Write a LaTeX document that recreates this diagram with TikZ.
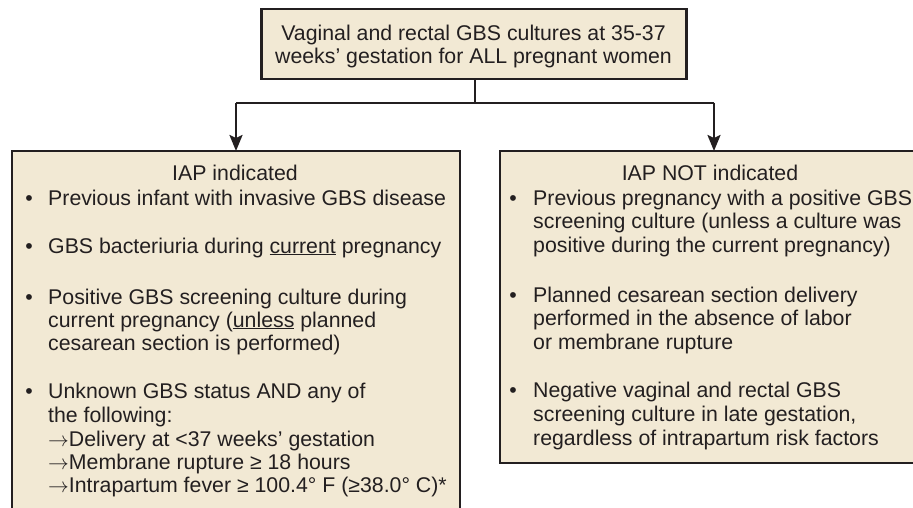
\documentclass[tikz,border=0pt]{standalone}
\usepackage{fontspec}
\setmainfont{Liberation Sans}
\usetikzlibrary{arrows.meta}
\definecolor{boxfill}{HTML}{F2E9D4}
\definecolor{ink}{HTML}{231F20}
\newcommand{\toarr}{\ensuremath{\rightarrow}}
\begin{document}
\begin{tikzpicture}[x=1pt,y=-1pt,
  panel/.style={draw=ink, line width=2.7pt, fill=boxfill, inner sep=0pt, outer sep=0pt},
  openpanel/.style={draw=none, fill=boxfill, inner sep=0pt, outer sep=0pt},
  edge/.style={draw=ink, line width=2.7pt},
  conn/.style={draw=ink, line width=2.3pt},
  arr/.style={conn, -{Stealth[length=16pt,width=13pt,inset=3pt]}},
  txt/.style={inner sep=0pt, anchor=base west, text=ink, font=\fontsize{21.3}{23.5}\selectfont},
  ctxt/.style={txt, anchor=base},
  bul/.style={txt, anchor=base}]
\useasboundingbox (0,0) rectangle (913,508);
\clip (0,0) rectangle (913,508);
% boxes
\node[panel, minimum width=425pt, minimum height=70pt] (top) at (474.2,44) {};
\node[openpanel, minimum width=448pt, minimum height=369pt] (left) at (236,335.5) {};
\draw[edge] (left.south west) -- (left.north west) -- (left.north east) -- (left.south east);
\node[openpanel, minimum width=428pt, minimum height=312pt] (right) at (714,307) {};
\draw[edge] (right.north east) -- (right.north west) -- (right.south west) -- (right.south east);
% connectors
\coordinate (jn) at (475,102.7);
\draw[conn] (top.south -| jn) -- (jn);
\draw[conn] (left.north |- jn) -- (right.north |- jn);
\draw[arr] (left.north |- jn) -- (left.north);
\draw[arr] (right.north |- jn) -- (right.north);
% top text
\node[ctxt] (t1) at (473.5,40.7) {Vaginal and rectal GBS cultures at 35-37};
\node[ctxt] (t2) at (473.5,64) {weeks’ gestation for ALL pregnant women};
% left panel
\node[ctxt] (lt) at (235,180.5) {IAP indicated};
\node[bul] (lb1) at (29,205.5) {•};
\node[txt] (l1) at (48,205.5) {Previous infant with invasive GBS disease};
\node[bul] (lb2) at (29,253) {•};
\node[txt] (l2) at (48,253) {GBS bacteriuria during \underline{current} pregnancy};
\node[bul] (lb3) at (29,304) {•};
\node[txt] (l3a) at (48,304) {Positive GBS screening culture during};
\node[txt] (l3b) at (48,327) {current pregnancy (\underline{unless} planned};
\node[txt] (l3c) at (48,350) {cesarean section is performed)};
\node[bul] (lb4) at (29,398) {•};
\node[txt] (l4a) at (48,398) {Unknown GBS status AND any of};
\node[txt] (l4b) at (48,422) {the following:};
\node[txt] (l4c) at (48,446) {\toarr Delivery at <37 weeks’ gestation};
\node[txt] (l4d) at (48,469.5) {\toarr Membrane rupture ≥ 18 hours};
\node[txt] (l4e) at (48,492.5) {\toarr Intrapartum fever ≥ 100.4° F (≥38.0° C)*};
% right panel
\node[ctxt] (rt) at (710,180.5) {IAP NOT indicated};
\node[bul] (rb1) at (513,205.5) {•};
\node[txt] (r1a) at (533,205.5) {Previous pregnancy with a positive GBS};
\node[txt] (r1b) at (533,228.5) {screening culture (unless a culture was};
\node[txt] (r1c) at (533,252) {positive during the current pregnancy)};
\node[bul] (rb2) at (513,302) {•};
\node[txt] (r2a) at (533,302) {Planned cesarean section delivery};
\node[txt] (r2b) at (533,325) {performed in the absence of labor};
\node[txt] (r2c) at (533,349) {or membrane rupture};
\node[bul] (rb3) at (513,397) {•};
\node[txt] (r3a) at (533,397) {Negative vaginal and rectal GBS};
\node[txt] (r3b) at (533,421) {screening culture in late gestation,};
\node[txt] (r3c) at (533,445) {regardless of intrapartum risk factors};
\end{tikzpicture}
\end{document}
